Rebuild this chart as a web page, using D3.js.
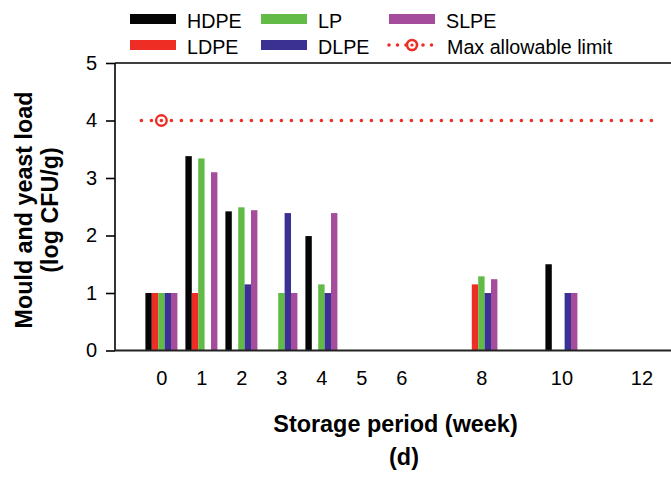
<!DOCTYPE html>
<html><head><meta charset="utf-8">
<script src="https://cdn.jsdelivr.net/npm/d3@7"></script>
<style>body{margin:0;background:#fff}svg{display:block;font-family:"Liberation Sans",Arial,sans-serif}</style>
</head><body>
<svg id="c" width="671" height="478"></svg>
<script>
const weeks = [0, 1, 2, 3, 4, 5, 6, 8, 10, 12];
const seriesNames = ["HDPE", "LDPE", "LP", "DLPE", "SLPE"];
const HDPE = [1, 3.38, 2.42, null, 1.99, null, null, null, 1.50, null];
const LDPE = [1, 1.0, null, null, null, null, null, 1.15, null, null];
const LP   = [1, 3.34, 2.49, 1.0, 1.15, null, null, 1.29, null, null];
const DLPE = [1, null, 1.15, 2.39, 1.0, null, null, 1.0, 1.0, null];
const SLPE = [1, 3.10, 2.44, 1.0, 2.39, null, null, 1.24, 1.0, null];
const maxLimit = 4;
const yTicks = [0, 1, 2, 3, 4, 5];
const colors = ["#050505", "#ee2e24", "#62bb46", "#3a3192", "#a54c9d"];
const limitColor = "#ee2e24";
const seriesData = [HDPE, LDPE, LP, DLPE, SLPE];

const svg = d3.select("#c");
const x = d3.scaleLinear().domain([-1.16, 12.74]).range([115, 671]);
const y = d3.scaleLinear().domain([0, 5]).range([350.5, 63]);
const barW = 6.4;

// bars
seriesData.forEach((vals, si) => {
  svg.append("g").selectAll("rect")
    .data(weeks.map((w, i) => ({w, v: vals[i]})).filter(d => d.v != null))
    .join("rect")
    .attr("x", d => x(d.w) - 2.5 * barW + si * barW)
    .attr("width", barW)
    .attr("y", d => y(d.v))
    .attr("height", d => y(0) - y(d.v))
    .attr("fill", colors[si]);
});

// axes
const yAxis = d3.axisLeft(y).tickValues(yTicks).tickSize(9).tickPadding(9).tickFormat(d3.format("d"));
const gy = svg.append("g").attr("transform", `translate(${x.range()[0]},0)`).call(yAxis);
gy.select(".domain").remove();
gy.selectAll(".tick line").attr("stroke", "#000").attr("stroke-width", 1.6);
gy.selectAll("text").attr("font-size", 20).attr("fill", "#000");
svg.append("line").attr("x1", x.range()[0]).attr("x2", x.range()[0]).attr("y1", y(5)).attr("y2", y(0))
  .attr("stroke", "#000").attr("stroke-width", 1.6);
// top frame and baseline
svg.append("line").attr("x1", x.range()[0]).attr("x2", 671).attr("y1", y(5)).attr("y2", y(5)).attr("stroke", "#000").attr("stroke-width", 1.6);
svg.append("line").attr("x1", x.range()[0]).attr("x2", 671).attr("y1", y(0)).attr("y2", y(0)).attr("stroke", "#222").attr("stroke-width", 1.8);

const xAxis = d3.axisBottom(x).tickValues(weeks).tickSize(0).tickPadding(20).tickFormat(d3.format("d"));
const gx = svg.append("g").attr("transform", `translate(0,${y(0)})`).call(xAxis);
gx.select(".domain").remove();
gx.selectAll("text").attr("font-size", 20).attr("fill", "#000");

// max limit line
svg.append("line").attr("x1", x(-0.5)).attr("x2", x(12.45)).attr("y1", y(maxLimit)).attr("y2", y(maxLimit))
  .attr("stroke", limitColor).attr("stroke-width", 3.6).attr("stroke-linecap", "round").attr("stroke-dasharray", "0 10");
svg.append("circle").attr("cx", x(0)).attr("cy", y(maxLimit)).attr("r", 5.3)
  .attr("fill", "none").attr("stroke", limitColor).attr("stroke-width", 2.4);

// titles
svg.append("text").attr("x", 395.5).attr("y", 432).attr("text-anchor", "middle")
  .attr("font-size", 23.4).attr("font-weight", "bold").text("Storage period (week)");
svg.append("text").attr("x", 404).attr("y", 465).attr("text-anchor", "middle")
  .attr("font-size", 23.4).attr("font-weight", "bold").text("(d)");
const yt = svg.append("text").attr("transform", "translate(32,210) rotate(-90)")
  .attr("text-anchor", "middle").attr("font-size", 23.3).attr("font-weight", "bold");
yt.append("tspan").attr("x", 0).attr("dy", 0).text("Mould and yeast load");
yt.append("tspan").attr("x", 0).attr("dy", 25.5).text("(log CFU/g)");

// legend
const legendItems = [
  {name: "HDPE", c: colors[0], lx: 130, ly: 14},
  {name: "LDPE", c: colors[1], lx: 130, ly: 40},
  {name: "LP", c: colors[2], lx: 261, ly: 14},
  {name: "DLPE", c: colors[3], lx: 261, ly: 40},
  {name: "SLPE", c: colors[4], lx: 389, ly: 14}
];
const lg = svg.append("g");
legendItems.forEach(d => {
  lg.append("rect").attr("x", d.lx).attr("y", d.ly).attr("width", 46).attr("height", 10).attr("fill", d.c);
  lg.append("text").attr("x", d.lx + 57).attr("y", d.ly + 13.5).attr("font-size", 19.7).text(d.name);
});
lg.append("line").attr("x1", 389).attr("x2", 435).attr("y1", 45).attr("y2", 45)
  .attr("stroke", limitColor).attr("stroke-width", 3.6).attr("stroke-linecap", "round").attr("stroke-dasharray", "0 8.5");
lg.append("circle").attr("cx", 412).attr("cy", 45).attr("r", 5).attr("fill", "#fff").attr("stroke", limitColor).attr("stroke-width", 2.6);
lg.append("circle").attr("cx", 412).attr("cy", 45).attr("r", 1.6).attr("fill", limitColor);
lg.append("text").attr("x", 447).attr("y", 53.5).attr("font-size", 19.7).text("Max allowable limit");
</script>
</body></html>
